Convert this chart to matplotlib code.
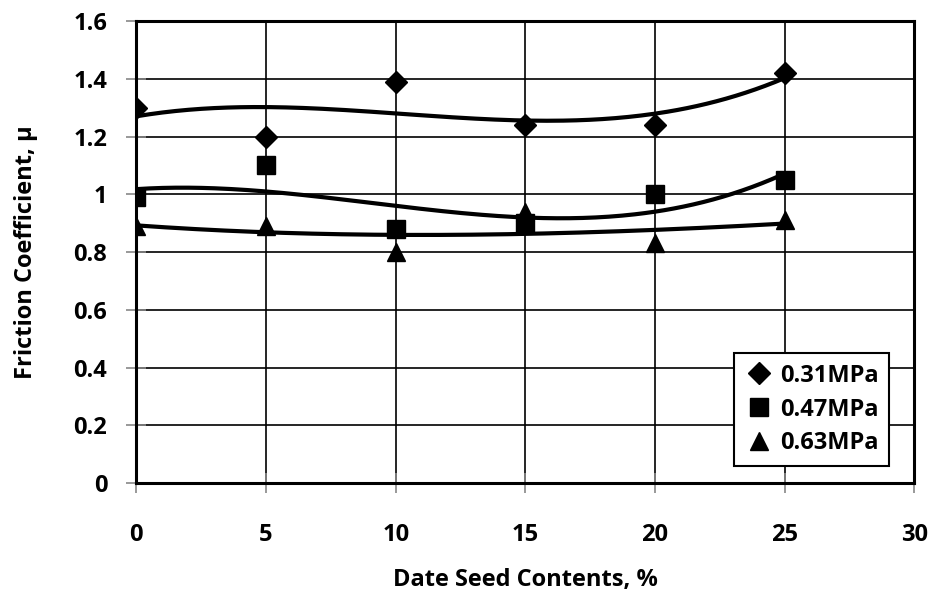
import numpy as np
import matplotlib.pyplot as plt

# datos
contenido = [0, 5, 10, 15, 20, 25]
mu_031 = [1.30, 1.20, 1.39, 1.24, 1.24, 1.42]
mu_047 = [0.99, 1.10, 0.88, 0.90, 1.00, 1.05]
mu_063 = [0.89, 0.89, 0.80, 0.94, 0.83, 0.91]
etiquetas = ["0.31MPa", "0.47MPa", "0.63MPa"]
marcadores = ["D", "s", "^"]
tamanos = [11, 13, 13]

plt.rcParams['font.family'] = ['Open Sans', 'DejaVu Sans']
plt.rcParams['font.weight'] = 'bold'

fig = plt.figure(figsize=(9.34, 6.01), dpi=100)
ax = fig.add_axes([0.146, 0.196, 0.833, 0.769])

# puntos + linea de tendencia polinomica (grado 3)
x = np.array(contenido)
xs = np.linspace(0, 25, 200)
for serie, etiqueta, m, s in zip([mu_031, mu_047, mu_063], etiquetas, marcadores, tamanos):
    ax.plot(x, serie, linestyle='none', marker=m, markersize=s, color='black', label=etiqueta, zorder=4)
    coef = np.polyfit(x, serie, 3)
    ax.plot(xs, np.polyval(coef, xs), color='black', linewidth=3, zorder=3)

ax.set_xlim(0, 30)
ax.set_ylim(0, 1.6)
ax.set_xticks(range(0, 31, 5))
ax.set_yticks(np.arange(0, 1.61, 0.2))
ax.set_yticklabels(["0", "0.2", "0.4", "0.6", "0.8", "1", "1.2", "1.4", "1.6"])
ax.grid(True, color='black', linewidth=1.2)
ax.set_axisbelow(True)
ax.tick_params(axis='both', direction='inout', length=14, width=1.2, color='#888888', labelsize=17)
ax.tick_params(axis='y', pad=14)
ax.tick_params(axis='x', pad=22)
for sp in ax.spines.values():
    sp.set_linewidth(2.2)
    sp.set_color('black')

ax.set_xlabel("Date Seed Contents, %", fontsize=17, fontweight='bold')
ax.set_ylabel("Friction Coefficient, μ", fontsize=17, fontweight='bold')
ax.xaxis.set_label_coords(0.5, -0.183)
ax.yaxis.set_label_coords(-0.127, 0.5)

leg = ax.legend(loc='lower right', bbox_to_anchor=(0.968, 0.037), frameon=True, fancybox=False,
                fontsize=17, handletextpad=0.3, handlelength=1.2, borderpad=0.45,
                labelspacing=0.42, edgecolor='black', framealpha=1, borderaxespad=0)
leg.get_frame().set_linewidth(1.5)

plt.savefig("out.png", dpi=100)
